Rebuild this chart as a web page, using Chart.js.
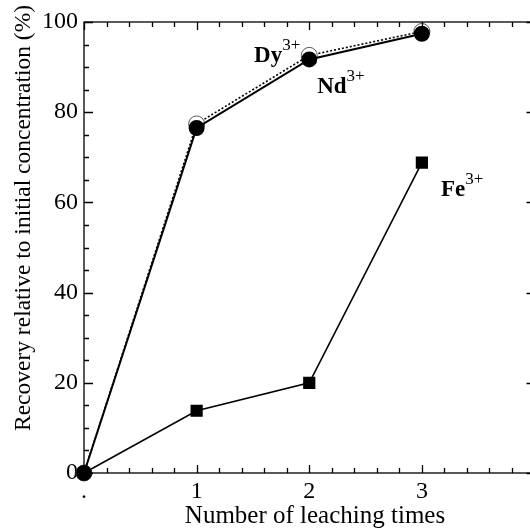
<!DOCTYPE html>
<html>
<head>
<meta charset="utf-8">
<script src="https://cdn.jsdelivr.net/npm/chart.js@4"></script>
<style>
  html, body { margin: 0; padding: 0; background: #fff; }
  #wrap { width: 530px; height: 529px; }
</style>
</head>
<body>
<div id="wrap"><canvas id="chart"></canvas></div>
<script>
// leaching data
const leachTimes = [0, 1, 2, 3];
const ndRecovery = [0, 76.5, 91.7, 97.4];
const dyRecovery = [0, 77.4, 92.6, 97.9];
const feRecovery = [0, 13.8, 20.0, 68.8];
const xTickLabels = { 0: '.', 1: '1', 2: '2', 3: '3' };
const ionLabels = [
  { ion: 'Dy', x: 1.51, y: 91.2 },
  { ion: 'Nd', x: 2.07, y: 84.2 },
  { ion: 'Fe', x: 3.17, y: 61.4 }
];
const xTitle = 'Number of leaching times';
const yTitle = 'Recovery relative to initial concentration (%)';

const FONT = '"Liberation Serif", "Times New Roman", serif';

function pts(ys) {
  return leachTimes.map((x, i) => ({ x: x, y: ys[i] }));
}

// inward ticks on all four sides, ion labels and axis titles
const frameTicks = {
  id: 'frameTicks',
  afterDatasetsDraw(chart) {
    const ctx = chart.ctx;
    const a = chart.chartArea;
    const xs = chart.scales.x, ys = chart.scales.y;
    // the frame closes at x = 4, just past the canvas edge
    const right = Math.round(xs.getPixelForValue(4)) + 0.5;
    ctx.save();
    ctx.strokeStyle = '#000';
    ctx.lineWidth = 1.3;
    ctx.strokeRect(a.left, a.top, right - a.left, a.bottom - a.top);
    for (let v = 0; v <= 3.9; v += 0.2) {
      const px = Math.round(xs.getPixelForValue(v)) + 0.5;
      const major = Math.abs(v - Math.round(v)) < 1e-6;
      const len = major ? 8 : 5;
      ctx.beginPath();
      ctx.moveTo(px, a.bottom); ctx.lineTo(px, a.bottom - len);
      ctx.moveTo(px, a.top); ctx.lineTo(px, a.top + len);
      ctx.stroke();
    }
    for (let v = 0; v <= 100; v += 5) {
      const py = Math.round(ys.getPixelForValue(v)) + 0.5;
      const len = v % 20 === 0 ? 9 : 5;
      ctx.beginPath();
      ctx.moveTo(a.left, py); ctx.lineTo(a.left + len, py);
      ctx.moveTo(right, py); ctx.lineTo(right - len, py);
      ctx.stroke();
    }
    ctx.fillStyle = '#000';
    ctx.textBaseline = 'alphabetic';
    ctx.textAlign = 'left';
    ionLabels.forEach(l => {
      const px = xs.getPixelForValue(l.x);
      const py = ys.getPixelForValue(l.y);
      ctx.font = 'bold 23px ' + FONT;
      ctx.fillText(l.ion, px, py);
      const w = ctx.measureText(l.ion).width;
      ctx.font = '17px ' + FONT;
      ctx.fillText('3+', px + w, py - 12);
    });
    // axis titles
    ctx.font = '25px ' + FONT;
    ctx.textAlign = 'center';
    ctx.textBaseline = 'middle';
    ctx.fillText(xTitle, 315, 516);
    ctx.translate(24, 218);
    ctx.rotate(-Math.PI / 2);
    ctx.font = '23.5px ' + FONT;
    ctx.fillText(yTitle, 0, 0);
    ctx.restore();
  }
};

new Chart(document.getElementById('chart'), {
  type: 'line',
  data: {
    datasets: [
      {
        label: 'Nd3+',
        data: pts(ndRecovery),
        borderColor: '#000',
        borderWidth: 2,
        pointStyle: 'circle',
        pointRadius: 7,
        pointBackgroundColor: '#000',
        pointBorderColor: '#000',
        clip: false
      },
      {
        label: 'Dy3+',
        data: pts(dyRecovery),
        borderColor: '#000',
        borderWidth: 1.6,
        borderDash: [2, 2],
        pointStyle: 'circle',
        pointRadius: 8,
        pointBorderWidth: 1,
        pointBackgroundColor: '#fff',
        pointBorderColor: '#555',
        clip: false
      },
      {
        label: 'Fe3+',
        data: pts(feRecovery),
        borderColor: '#000',
        borderWidth: 1.6,
        pointStyle: 'rect',
        pointRadius: 7.5,
        pointBackgroundColor: '#000',
        pointBorderColor: '#000',
        clip: false
      }
    ]
  },
  options: {
    responsive: true,
    maintainAspectRatio: false,
    animation: false,
    layout: { autoPadding: false, padding: { top: 22, right: 0, left: 0, bottom: 0 } },
    plugins: { legend: { display: false }, tooltip: { enabled: false } },
    scales: {
      x: {
        type: 'linear',
        min: 0,
        max: 3.96,
        afterFit: s => { s.height = 56; s.paddingRight = 0; },
        grid: { display: false, drawTicks: false },
        border: { display: false },
        ticks: {
          stepSize: 1,
          padding: 4,
          color: '#000',
          maxRotation: 0,
          font: { family: FONT, size: 24 },
          callback: v => xTickLabels[v] !== undefined ? xTickLabels[v] : ''
        }
      },
      y: {
        min: 0,
        max: 100,
        afterFit: s => { s.width = 84; },
        grid: { display: false, drawTicks: false },
        border: { display: false },
        ticks: {
          stepSize: 20,
          padding: 6,
          color: '#000',
          font: { family: FONT, size: 24 }
        }
      }
    }
  },
  plugins: [frameTicks]
});
</script>
</body>
</html>
